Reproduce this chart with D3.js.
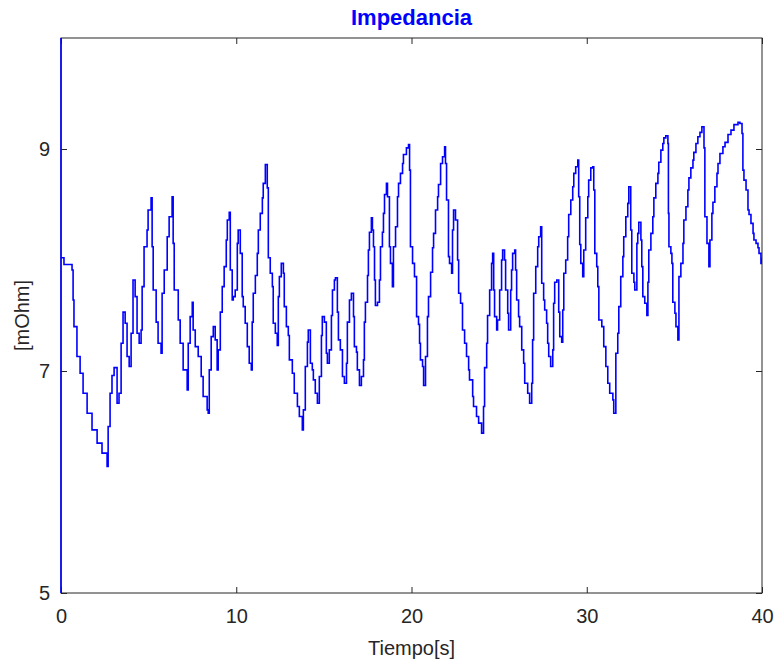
<!DOCTYPE html>
<html>
<head>
<meta charset="utf-8">
<script src="https://cdn.jsdelivr.net/npm/d3@7"></script>
<style>
  body { margin: 0; background: #fff; }
  text { font-family: "Liberation Sans", Arial, sans-serif; }
</style>
</head>
<body>
<svg id="chart" width="774" height="662"></svg>
<script>
// tiempo [s]
var tiempo = [0, 0, 0, 0.17, 0.63, 0.69, 0.74, 0.91, 1.09, 1.26, 1.49, 1.77, 2.06, 2.34, 2.63, 2.69, 2.80, 2.91, 3.03,
  3.20, 3.31, 3.43, 3.54, 3.66, 3.77, 3.89, 4.00, 4.11, 4.23, 4.34, 4.46, 4.57, 4.63, 4.74, 4.91, 4.97, 5.14,
  5.20, 5.26, 5.43, 5.54, 5.71, 5.77, 5.89, 6.06, 6.17, 6.34, 6.40, 6.46, 6.69, 6.80, 6.97, 7.20, 7.26, 7.37,
  7.49, 7.54, 7.66, 7.83, 8.00, 8.11, 8.34, 8.40, 8.46, 8.57, 8.69, 8.80, 8.91, 8.97, 9.09, 9.20, 9.31, 9.43,
  9.49, 9.60, 9.66, 9.77, 9.83, 9.94, 10.06, 10.11, 10.23, 10.34, 10.40, 10.51, 10.63, 10.74, 10.86, 10.91,
  10.97, 11.09, 11.20, 11.26, 11.37, 11.49, 11.54, 11.66, 11.77, 11.83, 11.94, 12.06, 12.11, 12.23, 12.34,
  12.40, 12.46, 12.57, 12.69, 12.74, 12.86, 12.97, 13.03, 13.20, 13.31, 13.49, 13.60, 13.77, 13.83, 13.94,
  14.06, 14.11, 14.23, 14.34, 14.40, 14.51, 14.63, 14.74, 14.86, 14.91, 15.03, 15.14, 15.20, 15.31, 15.43,
  15.49, 15.60, 15.66, 15.77, 15.83, 15.94, 16.06, 16.17, 16.29, 16.34, 16.46, 16.57, 16.69, 16.74, 16.86,
  16.91, 17.03, 17.14, 17.26, 17.31, 17.37, 17.49, 17.54, 17.60, 17.71, 17.77, 17.83, 17.89, 17.94, 18.06,
  18.17, 18.23, 18.34, 18.40, 18.46, 18.57, 18.63, 18.74, 18.80, 18.91, 18.97, 19.09, 19.20, 19.26, 19.37,
  19.49, 19.54, 19.71, 19.83, 19.89, 19.94, 20.06, 20.17, 20.29, 20.40, 20.46, 20.51, 20.63, 20.69, 20.80,
  20.91, 20.97, 21.09, 21.20, 21.26, 21.37, 21.49, 21.54, 21.66, 21.77, 21.89, 21.94, 22.00, 22.11, 22.17,
  22.29, 22.34, 22.40, 22.51, 22.63, 22.69, 22.80, 22.91, 23.03, 23.14, 23.26, 23.31, 23.49, 23.54, 23.71,
  23.83, 24.00, 24.11, 24.17, 24.29, 24.34, 24.46, 24.57, 24.63, 24.69, 24.74, 24.86, 24.91, 25.03, 25.14,
  25.20, 25.31, 25.37, 25.49, 25.54, 25.66, 25.71, 25.77, 25.89, 25.94, 26.00, 26.11, 26.17, 26.29, 26.40,
  26.46, 26.63, 26.74, 26.86, 26.91, 26.97, 27.09, 27.20, 27.26, 27.37, 27.43, 27.54, 27.60, 27.71, 27.77,
  27.83, 27.94, 28.06, 28.11, 28.17, 28.29, 28.40, 28.46, 28.57, 28.63, 28.69, 28.80, 28.91, 28.97, 29.09,
  29.20, 29.26, 29.37, 29.49, 29.54, 29.60, 29.66, 29.77, 29.83, 29.94, 30.06, 30.11, 30.23, 30.34, 30.40,
  30.46, 30.57, 30.63, 30.69, 30.86, 30.97, 31.09, 31.20, 31.31, 31.49, 31.54, 31.66, 31.77, 31.83, 31.94,
  32.06, 32.11, 32.23, 32.34, 32.40, 32.51, 32.57, 32.69, 32.74, 32.86, 32.91, 32.97, 33.09, 33.14, 33.20,
  33.31, 33.43, 33.49, 33.54, 33.66, 33.77, 33.83, 33.94, 34.06, 34.11, 34.23, 34.34, 34.40, 34.51, 34.63,
  34.66, 34.69, 34.80, 34.86, 34.91, 35.03, 35.09, 35.20, 35.26, 35.37, 35.49, 35.54, 35.66, 35.77, 35.83,
  35.94, 36.06, 36.11, 36.23, 36.34, 36.46, 36.57, 36.69, 36.74, 36.86, 36.97, 37.03, 37.14, 37.20, 37.31,
  37.43, 37.49, 37.60, 37.77, 37.89, 38.06, 38.23, 38.40, 38.63, 38.74, 38.86, 38.91, 38.97, 39.09, 39.20,
  39.26, 39.37, 39.49, 39.54, 39.66, 39.77, 39.83, 39.94, 40.00];

// impedancia [mOhm]
var impedancia = [0, 12, 8.02, 7.96, 7.91, 7.64, 7.40, 7.13, 6.98, 6.80, 6.62, 6.47, 6.35, 6.26, 6.14, 6.50, 6.80, 6.96, 7.03,
  6.71, 6.80, 7.25, 7.53, 7.43, 7.13, 7.04, 7.34, 7.82, 7.67, 7.34, 7.25, 7.37, 7.76, 8.12, 8.27, 8.45, 8.56,
  8.12, 7.73, 7.44, 7.25, 7.16, 7.70, 7.91, 8.21, 8.39, 8.57, 8.15, 7.73, 7.46, 7.25, 7.01, 6.83, 7.25, 7.49,
  7.62, 7.37, 7.22, 7.13, 6.95, 6.77, 6.65, 6.62, 7.01, 7.31, 7.40, 7.28, 7.01, 7.19, 7.53, 7.76, 7.94, 8.18,
  8.36, 8.43, 7.91, 7.64, 7.67, 7.73, 8.15, 8.27, 8.06, 7.67, 7.58, 7.43, 7.22, 7.07, 7.01, 7.44,
  7.70, 7.86, 8.06, 8.27, 8.42, 8.56, 8.69, 8.86, 8.65, 8.02, 7.88, 7.76, 7.43, 7.34, 7.23,
  7.67, 7.85, 7.97, 7.88, 7.58, 7.40, 7.32, 7.10, 6.98, 6.80, 6.68, 6.59, 6.47, 6.65, 7.04,
  7.26, 7.37, 7.07, 7.01, 6.92, 6.80, 6.71, 6.95, 7.32, 7.49, 7.44, 7.16, 7.07, 7.19, 7.50,
  7.73, 7.82, 7.84, 7.53, 7.28, 7.19, 6.95, 6.89, 7.07, 7.44, 7.64, 7.70, 7.49, 7.22, 7.17,
  7.01, 6.87, 6.95, 7.10, 7.44, 7.62, 7.86, 8.09, 8.25, 8.38, 8.27, 8.12, 7.82, 7.59, 7.62,
  7.82, 8.12, 8.25, 8.42, 8.59, 8.69, 8.57, 8.12, 7.97, 7.76, 8.12, 8.30, 8.57, 8.69, 8.78,
  8.87, 8.95, 9.01, 9.04, 8.81, 8.12, 7.97, 7.85, 7.49, 7.42, 7.25, 7.10, 7.04, 6.87, 7.13,
  7.49, 7.67, 7.89, 8.11, 8.24, 8.45, 8.57, 8.68, 8.87, 8.93, 9.02, 8.87, 8.54, 8.03, 7.97,
  7.88, 8.27, 8.45, 8.36, 8.00, 7.70, 7.61, 7.37, 7.25, 7.13, 7.01, 6.92, 6.77, 6.68, 6.59,
  6.53, 6.44, 6.68, 7.03, 7.25, 7.50, 7.73, 7.97, 8.06, 7.73, 7.49, 7.37, 7.46, 7.73, 8.00,
  8.09, 8.00, 7.73, 7.52, 7.37, 7.73, 7.91, 8.06, 8.09, 7.91, 7.64, 7.49, 7.40, 7.19, 7.07,
  6.89, 6.80, 6.71, 6.89, 7.28, 7.70, 7.94, 8.12, 8.21, 8.30, 7.79, 7.64, 7.55, 7.43, 7.25,
  7.13, 7.04, 7.19, 7.61, 7.80, 7.82, 7.53, 7.31, 7.26, 7.55, 7.88, 8.00, 8.21, 8.41, 8.54,
  8.66, 8.78, 8.84, 8.90, 8.57, 8.14, 7.97, 7.85, 8.09, 8.38, 8.57, 8.72, 8.83, 8.84, 8.63,
  8.06, 7.94, 7.76, 7.46, 7.40, 7.22, 7.04, 6.89, 6.80, 6.74, 6.62, 7.16, 7.34, 7.58, 7.85,
  8.03, 8.21, 8.39, 8.51, 8.66, 8.27, 7.88, 7.80, 7.73, 8.15, 8.24, 8.34, 8.18, 7.94, 7.67,
  7.61, 7.50, 7.80, 8.09, 8.24, 8.39, 8.56, 8.69, 8.78, 8.88, 8.99, 9.05, 9.10, 9.12, 9.05,
  8.42, 8.12, 8.06, 7.97, 7.62, 7.52, 7.40, 7.28, 7.85, 7.97, 8.15, 8.36, 8.48, 8.63, 8.74,
  8.83, 8.90, 8.97, 9.05, 9.11, 9.15, 9.20, 9.01, 8.39, 8.15, 7.94, 8.18, 8.42, 8.52, 8.66,
  8.78, 8.87, 8.96, 9.02, 9.06, 9.13, 9.17, 9.22, 9.24, 9.23, 9.14, 8.81, 8.72, 8.63, 8.45,
  8.41, 8.33, 8.24, 8.18, 8.15, 8.11, 8.06, 7.97, 8.02];

var xTicks = [0, 10, 20, 30, 40];
var yTicks = [5, 7, 9];

var width = 774, height = 662;
var margin = { top: 38, right: 12, bottom: 69, left: 61 };
var innerW = width - margin.left - margin.right;
var innerH = height - margin.top - margin.bottom;
var axisColor = '#262626';

var svg = d3.select('#chart');
svg.append('rect').attr('width', width).attr('height', height).attr('fill', '#fff');

var x = d3.scaleLinear().domain([0, 40]).range([0, innerW]);
var y = d3.scaleLinear().domain([5, 10]).range([innerH, 0]);

var g = svg.append('g').attr('transform', 'translate(' + margin.left + ',' + margin.top + ')');

// axes, ticks pointing inward on all four sides
var styleAxis = function (sel) {
  sel.select('.domain').remove();
  sel.selectAll('line').attr('stroke', axisColor);
  sel.selectAll('text').attr('fill', axisColor).style('font-size', '20px');
};

g.append('g')
  .attr('transform', 'translate(0,' + innerH + ')')
  .call(d3.axisBottom(x).tickValues(xTicks).tickSizeInner(-6).tickSizeOuter(0).tickPadding(16))
  .call(styleAxis);
g.append('g')
  .call(d3.axisTop(x).tickValues(xTicks).tickSizeInner(-6).tickSizeOuter(0).tickFormat(''))
  .call(styleAxis);
g.append('g')
  .call(d3.axisLeft(y).tickValues(yTicks).tickFormat(d3.format('d')).tickSizeInner(-6).tickSizeOuter(0).tickPadding(11))
  .call(styleAxis);
g.append('g')
  .attr('transform', 'translate(' + innerW + ',0)')
  .call(d3.axisRight(y).tickValues(yTicks).tickSizeInner(-6).tickSizeOuter(0).tickFormat(''))
  .call(styleAxis);

g.append('rect')
  .attr('width', innerW).attr('height', innerH)
  .attr('fill', 'none').attr('stroke', axisColor).attr('stroke-width', 1);

// data line, clipped to the plot box
g.append('clipPath').attr('id', 'clip')
  .append('rect').attr('x', -1).attr('width', innerW + 1).attr('height', innerH);

var line = d3.line()
  .curve(d3.curveStepAfter)
  .x(function (d) { return x(d[0]); })
  .y(function (d) { return y(d[1]); });

g.append('path')
  .datum(d3.zip(tiempo, impedancia))
  .attr('clip-path', 'url(#clip)')
  .attr('fill', 'none')
  .attr('stroke', '#0000ff')
  .attr('stroke-width', 1.6)
  .attr('d', line);

// labels
svg.append('text')
  .attr('x', margin.left + innerW / 2).attr('y', 25)
  .attr('text-anchor', 'middle')
  .attr('fill', '#0000ff')
  .style('font-size', '22px').style('font-weight', 'bold')
  .text('Impedancia');

svg.append('text')
  .attr('x', margin.left + innerW / 2).attr('y', 655)
  .attr('text-anchor', 'middle')
  .attr('fill', axisColor)
  .style('font-size', '20px')
  .text('Tiempo[s]');

svg.append('text')
  .attr('transform', 'translate(29,' + (margin.top + innerH / 2) + ') rotate(-90)')
  .attr('text-anchor', 'middle')
  .attr('fill', axisColor)
  .style('font-size', '20px')
  .text('[mOhm]');
</script>
</body>
</html>
